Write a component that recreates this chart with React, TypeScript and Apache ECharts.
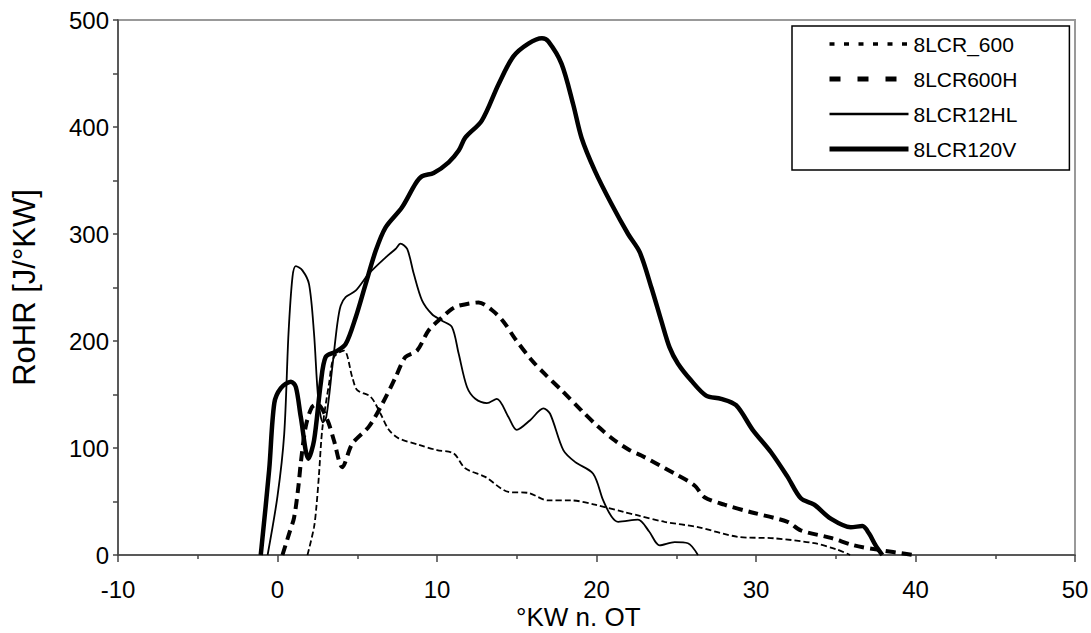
import React, { useEffect, useRef } from "react";
import * as echarts from "echarts";

const seriesNames = ["8LCR_600", "8LCR600H", "8LCR12HL", "8LCR120V"];
const xTitle = "°KW n. OT";
const yTitle = "RoHR [J/°KW]";

const xTicks = { min: -10, max: 50, step: 10 };
const yTicks = { min: 0, max: 500, step: 100 };

const data8LCR_600: [number, number][] = [
  [1.88, 0], [2.29, 26], [2.45, 47], [2.6, 75], [2.81, 118], [3.23, 160], [3.54, 185],
  [4.17, 191], [4.69, 166], [5.0, 154], [5.83, 148], [6.46, 132], [6.98, 117], [7.6, 109],
  [8.86, 103], [10.0, 98], [11.04, 95], [11.77, 81], [13.02, 73], [14.48, 59], [15.73, 58],
  [16.98, 51], [18.44, 51], [19.9, 47], [21.77, 40], [22.6, 37], [24.27, 31], [26.36, 26],
  [28.86, 17], [31.15, 15.6], [33.65, 11], [35.1, 5], [35.9, 0],
];

const data8LCR600H: [number, number][] = [
  [0.31, 0], [0.73, 20], [1.04, 35], [1.31, 64], [1.46, 86], [1.77, 120], [2.15, 138],
  [2.5, 141], [3.13, 126], [3.54, 107], [4.06, 82], [4.69, 104], [5.73, 120], [6.56, 141],
  [7.4, 166], [8.02, 185], [8.75, 191], [9.48, 210], [10.31, 222], [10.94, 230], [11.36, 233],
  [12.61, 236], [13.44, 229], [14.17, 218], [14.9, 202], [15.94, 182], [16.77, 169],
  [17.81, 154], [19.06, 135], [20.1, 120], [21.15, 107], [22.08, 98], [22.81, 93], [24.9, 76],
  [26.15, 65], [26.77, 54], [28.02, 47], [29.69, 40], [31.98, 31], [32.81, 23], [34.69, 16],
  [36.15, 9], [37.6, 5], [39.9, 0],
];

const data8LCR12HL: [number, number][] = [
  [-0.62, 0], [0.0, 55], [0.42, 113], [0.69, 207], [0.94, 260], [1.15, 270], [1.56, 266],
  [1.98, 253], [2.29, 207], [2.56, 145], [2.85, 124], [3.06, 129], [3.44, 176], [3.75, 216],
  [3.96, 233], [4.27, 241], [4.9, 247], [5.73, 263], [6.77, 278], [7.4, 286], [7.71, 291],
  [8.13, 286], [8.54, 263], [9.06, 238], [9.69, 225], [10.31, 219], [10.94, 213], [11.36, 188],
  [11.88, 157], [12.4, 146], [13.13, 142], [13.75, 146], [14.48, 129], [15.0, 117],
  [15.84, 126], [16.67, 137], [17.09, 132], [17.92, 98], [18.65, 87], [19.79, 76], [20.42, 51],
  [20.94, 36], [21.36, 31], [22.6, 33], [23.3, 22], [23.96, 9], [24.9, 12], [25.73, 11],
  [26.36, 0],
];

const data8LCR120V: [number, number][] = [
  [-1.05, 0], [-0.52, 80], [-0.2, 142], [0.21, 156], [0.84, 162], [1.15, 157], [1.46, 129],
  [1.94, 90], [2.29, 107], [2.71, 160], [3.02, 185], [3.65, 190], [4.27, 197], [4.9, 222],
  [5.52, 253], [6.15, 284], [6.77, 306], [7.81, 325], [8.65, 347], [9.06, 354], [9.79, 357],
  [10.73, 367], [11.36, 378], [11.77, 390], [12.81, 406], [13.86, 440], [14.79, 466],
  [15.73, 478], [16.58, 483], [16.98, 480], [17.81, 459], [18.54, 421], [19.06, 390],
  [19.9, 359], [20.94, 328], [21.98, 300], [22.71, 283], [23.44, 250], [24.06, 219],
  [24.58, 194], [25.1, 179], [25.94, 163], [26.87, 149], [27.81, 146], [28.75, 140],
  [29.79, 117], [30.94, 96], [31.98, 73], [32.81, 53], [33.65, 47], [34.69, 34], [35.94, 26],
  [36.67, 27], [37.09, 20], [37.5, 9], [37.92, 0],
];

const FONT = "'Liberation Sans', Arial, sans-serif";

export default function App() {
  const ref = useRef<HTMLDivElement>(null);
  useEffect(() => {
    if (!ref.current) return;
    const chart = echarts.init(ref.current, undefined, { renderer: "svg" });
    const axisColor = "#444";
    const lineDefs = [
      { name: seriesNames[0], data: data8LCR_600, width: 1.8, type: [6, 3] as any, legendWidth: 3.5, legendType: [5, 9.5] as any },
      { name: seriesNames[1], data: data8LCR600H, width: 4, type: [10, 6] as any, legendWidth: 5, legendType: [11, 17] as any },
      { name: seriesNames[2], data: data8LCR12HL, width: 1.8, type: "solid" as any, legendWidth: 2.5, legendType: "solid" as any },
      { name: seriesNames[3], data: data8LCR120V, width: 4.5, type: "solid" as any, legendWidth: 5, legendType: "solid" as any },
    ];
    chart.setOption({
      animation: false,
      backgroundColor: "#fff",
      textStyle: { fontFamily: FONT, color: "#000" },
      grid: {
        left: 118,
        right: 16,
        top: 20,
        bottom: 78,
        show: true,
        borderColor: "#999",
        borderWidth: 2,
        backgroundColor: "transparent",
        outerBoundsMode: "none",
        containLabel: false,
      },
      graphic: [
        {
          type: "text",
          left: 516,
          top: 604,
          style: {
            text: xTitle,
            fontFamily: FONT,
            fontSize: 26,
            fill: "#000",
          },
        },
      ],
      legend: {
        orient: "vertical",
        left: 792,
        top: 26,
        padding: [7, 52, 10, 35],
        itemWidth: 79,
        itemHeight: 14,
        itemGap: 13,
        borderColor: "#000",
        borderWidth: 1.5,
        backgroundColor: "#fff",
        textStyle: { fontFamily: FONT, fontSize: 21, color: "#000", lineHeight: 22 },
        data: lineDefs.map((d) => ({
          name: d.name,
          itemStyle: { color: "rgba(0,0,0,0)", borderWidth: 0, opacity: 0 },
          lineStyle: { width: d.legendWidth, type: d.legendType, color: "#000", opacity: 1 },
        })),
      },
      xAxis: {
        type: "value",
        min: xTicks.min,
        max: xTicks.max,
        interval: xTicks.step,
        axisLine: { show: true, onZero: false, lineStyle: { color: axisColor, width: 1.5 } },
        axisTick: { show: true, inside: false, length: 7, lineStyle: { color: axisColor, width: 1.5 } },
        minorTick: { show: true, splitNumber: 2, length: 4, lineStyle: { color: axisColor, width: 1.5 } },
        axisLabel: { fontFamily: FONT, fontSize: 24, color: "#000", margin: 22 },
        splitLine: { show: false },
        minorSplitLine: { show: false },
      },
      yAxis: {
        type: "value",
        min: yTicks.min,
        max: yTicks.max,
        interval: yTicks.step,
        name: yTitle,
        nameLocation: "middle",
        nameGap: 78,
        nameTextStyle: { fontFamily: FONT, fontSize: 31, color: "#000" },
        axisLine: { show: true, onZero: false, lineStyle: { color: axisColor, width: 1.5 } },
        axisTick: { show: true, inside: false, length: 5, lineStyle: { color: axisColor, width: 1.5 } },
        minorTick: { show: true, splitNumber: 2, length: 5, lineStyle: { color: axisColor, width: 1.5 } },
        axisLabel: { fontFamily: FONT, fontSize: 24, color: "#000", margin: 9 },
        splitLine: { show: false },
        minorSplitLine: { show: false },
      },
      series: lineDefs.map((d) => ({
        name: d.name,
        type: "line",
        data: d.data,
        symbol: "none",
        showSymbol: false,
        smooth: 0.3,
        color: "#000",
        lineStyle: { color: "#000", width: d.width, type: d.type },
        z: 2,
      })),
    });
    return () => chart.dispose();
  }, []);
  return <div ref={ref} style={{ width: 1091, height: 633, position: "absolute", left: 0, top: 0 }} />;
}
